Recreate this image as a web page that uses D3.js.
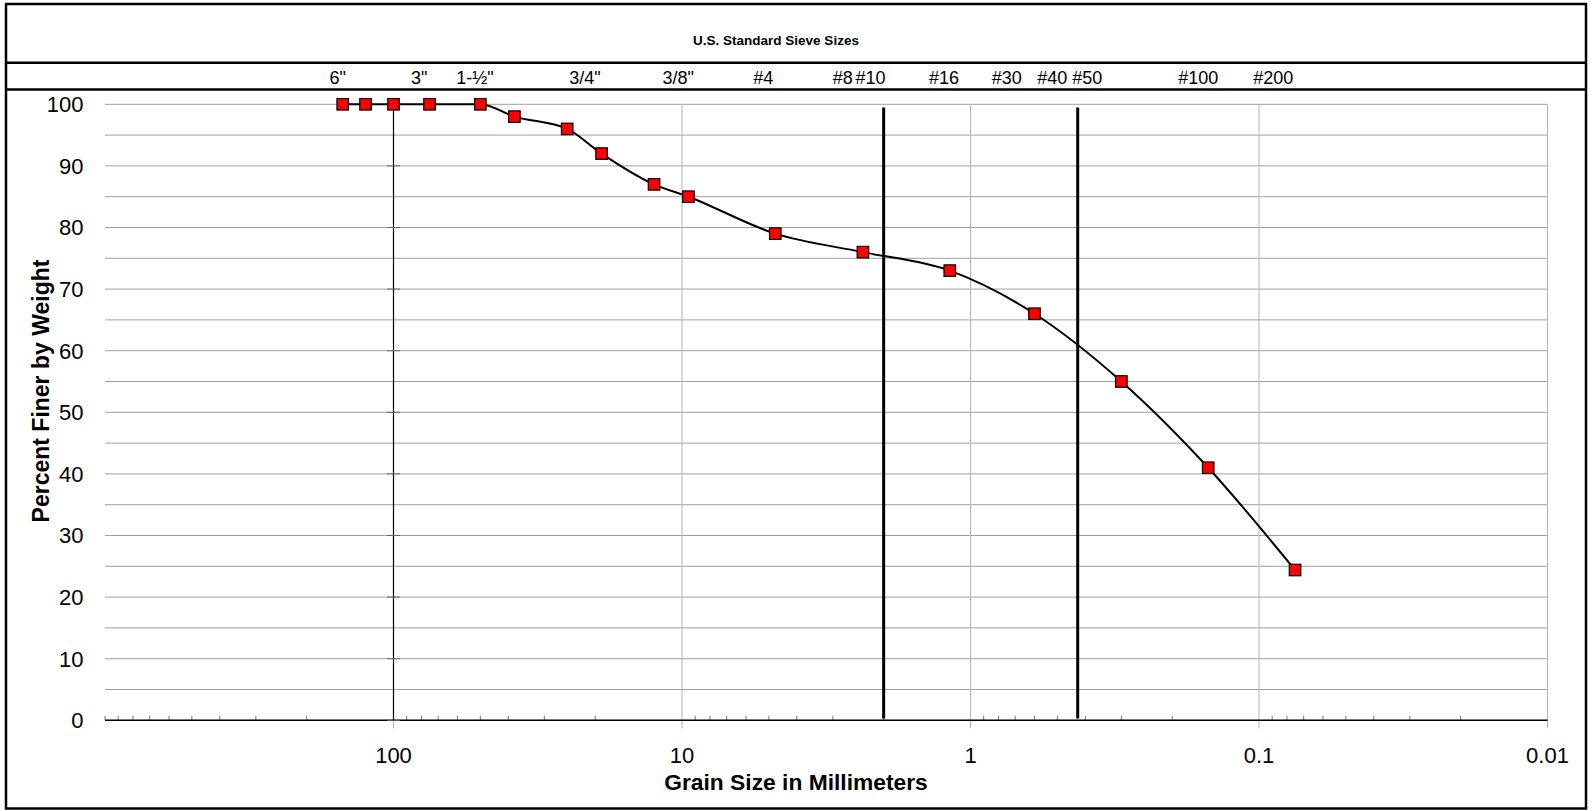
<!DOCTYPE html>
<html>
<head>
<meta charset="utf-8">
<script src="https://cdn.jsdelivr.net/npm/d3@7"></script>
<style>
  html, body { margin: 0; padding: 0; background: #fff; }
  svg { display: block; font-family: "Liberation Sans", Arial, sans-serif; }
</style>
</head>
<body>
<svg id="chart" width="1591" height="810"></svg>
<script>
// ---------------- data ----------------
const grainSizeMm = [150, 125, 100, 75, 50, 38.1, 25, 19, 12.5, 9.5, 4.75, 2.36, 1.18, 0.6, 0.3, 0.15, 0.075];
const percentFiner = [100, 100, 100, 100, 100, 98, 96, 92, 87, 85, 79, 76, 73, 66, 55, 41, 24.4];

const sieveLabels = ['6"', '3"', '1-½"', '3/4"', '3/8"', '#4', '#8', '#10', '#16', '#30', '#40', '#50', '#100', '#200'];
// where each sieve label sits along the grain-size axis (mm)
const sieveLabelAtMm = [156, 81.4, 52.2, 21.7, 10.3, 5.23, 2.77, 2.22, 1.236, 0.749, 0.521, 0.394, 0.1623, 0.0892];

const xTickValues = [100, 10, 1, 0.1, 0.01];
const xTickLabels = ["100", "10", "1", "0.1", "0.01"];
const yLabelValues = [0, 10, 20, 30, 40, 50, 60, 70, 80, 90, 100];
const yGridValues = [0, 5, 10, 15, 20, 25, 30, 35, 40, 45, 50, 55, 60, 65, 70, 75, 80, 85, 90, 95, 100];

// boundary lines (#10 sieve = 2.0 mm, #40 sieve = 0.425 mm)
const boundarySizesMm = [2.0, 0.425];
const boundaryTopPct = 99.5, boundaryBottomPct = 0.3;

const chartTitle = "U.S. Standard Sieve Sizes";
const xTitle = "Grain Size in Millimeters";
const yTitle = "Percent Finer by Weight";

// ---------------- layout ----------------
const svg = d3.select("#chart");
const plot = { left: 105, right: 1547.5, top: 104.3, bottom: 720.3 };

const x = d3.scaleLog().domain([1000, 0.01]).range([plot.left, plot.right]);
const y = d3.scaleLinear().domain([0, 100]).range([plot.bottom, plot.top]);

// outer frame and header rows
svg.append("rect").attr("x", 6).attr("y", 4).attr("width", 1580).attr("height", 804.5)
  .attr("fill", "none").attr("stroke", "#000").attr("stroke-width", 2.5);
[62.7, 89.5].forEach(yy => {
  svg.append("line").attr("x1", 6).attr("x2", 1586).attr("y1", yy).attr("y2", yy)
    .attr("stroke", "#000").attr("stroke-width", 2.5);
});

svg.append("text").attr("x", 776).attr("y", 40).attr("dy", "0.35em")
  .attr("text-anchor", "middle").attr("font-size", 13.5).attr("font-weight", "bold")
  .text(chartTitle);

svg.append("g").selectAll("text").data(sieveLabels).join("text")
  .attr("x", (d, i) => x(sieveLabelAtMm[i]))
  .attr("y", 78).attr("dy", "0.35em")
  .attr("text-anchor", "middle").attr("font-size", 18)
  .text(d => d);

// horizontal gridlines
svg.append("g").selectAll("line").data(yGridValues).join("line")
  .attr("x1", plot.left).attr("x2", plot.right)
  .attr("y1", d => y(d)).attr("y2", d => y(d))
  .attr("stroke", "#a0a0a0").attr("stroke-width", 1);

// vertical gridlines at decades (major ticks extend below the axis)
svg.append("g").selectAll("line").data(xTickValues).join("line")
  .attr("x1", d => x(d)).attr("x2", d => x(d))
  .attr("y1", plot.top).attr("y2", plot.bottom + 8)
  .attr("stroke", "#b4b4b4").attr("stroke-width", 1);

// minor ticks along the x axis
const minorTicks = x.ticks().filter(v => xTickValues.indexOf(v) < 0);
svg.append("g").selectAll("line").data(minorTicks).join("line")
  .attr("x1", d => x(d)).attr("x2", d => x(d))
  .attr("y1", plot.bottom - 4.5).attr("y2", plot.bottom)
  .attr("stroke", "#777").attr("stroke-width", 1);

// x axis line
svg.append("line").attr("x1", plot.left).attr("x2", plot.right)
  .attr("y1", plot.bottom).attr("y2", plot.bottom)
  .attr("stroke", "#000").attr("stroke-width", 1.5);

// value axis crossing at 100 mm
svg.append("line").attr("x1", x(100)).attr("x2", x(100))
  .attr("y1", y(100)).attr("y2", y(0))
  .attr("stroke", "#000").attr("stroke-width", 1.2);
svg.append("g").selectAll("line").data(yLabelValues).join("line")
  .attr("x1", x(100) - 6.5).attr("x2", x(100) + 6.5)
  .attr("y1", d => y(d)).attr("y2", d => y(d))
  .attr("stroke", "#666").attr("stroke-width", 1);

// y labels
svg.append("g").selectAll("text").data(yLabelValues).join("text")
  .attr("x", 83.5).attr("y", d => y(d)).attr("dy", "0.36em")
  .attr("text-anchor", "end").attr("font-size", 22)
  .text(d => d);

// x labels
svg.append("g").selectAll("text").data(xTickValues).join("text")
  .attr("x", d => x(d)).attr("y", 755).attr("dy", "0.36em")
  .attr("text-anchor", "middle").attr("font-size", 22)
  .text((d, i) => xTickLabels[i]);

// axis titles
svg.append("text").attr("x", 796).attr("y", 782).attr("dy", "0.36em")
  .attr("text-anchor", "middle").attr("font-size", 22.8).attr("font-weight", "bold")
  .text(xTitle);
svg.append("text").attr("transform", "translate(41,391) rotate(-90)").attr("dy", "0.36em")
  .attr("text-anchor", "middle").attr("font-size", 23).attr("font-weight", "bold")
  .text(yTitle);

// boundary lines
svg.append("g").selectAll("line").data(boundarySizesMm).join("line")
  .attr("x1", d => x(d)).attr("x2", d => x(d))
  .attr("y1", y(boundaryTopPct)).attr("y2", y(boundaryBottomPct))
  .attr("stroke", "#000").attr("stroke-width", 3);

// gradation curve
const pts = grainSizeMm.map((d, i) => [x(d), y(percentFiner[i])]);
const line = d3.line().curve(d3.curveMonotoneX);
svg.append("path").attr("d", line(pts))
  .attr("fill", "none").attr("stroke", "#000").attr("stroke-width", 2);

// markers
const ms = 11.5;
svg.append("g").selectAll("rect").data(pts).join("rect")
  .attr("x", d => d[0] - ms / 2).attr("y", d => d[1] - ms / 2)
  .attr("width", ms).attr("height", ms)
  .attr("fill", "#ff0000").attr("stroke", "#000").attr("stroke-width", 1.2);
</script>
</body>
</html>
